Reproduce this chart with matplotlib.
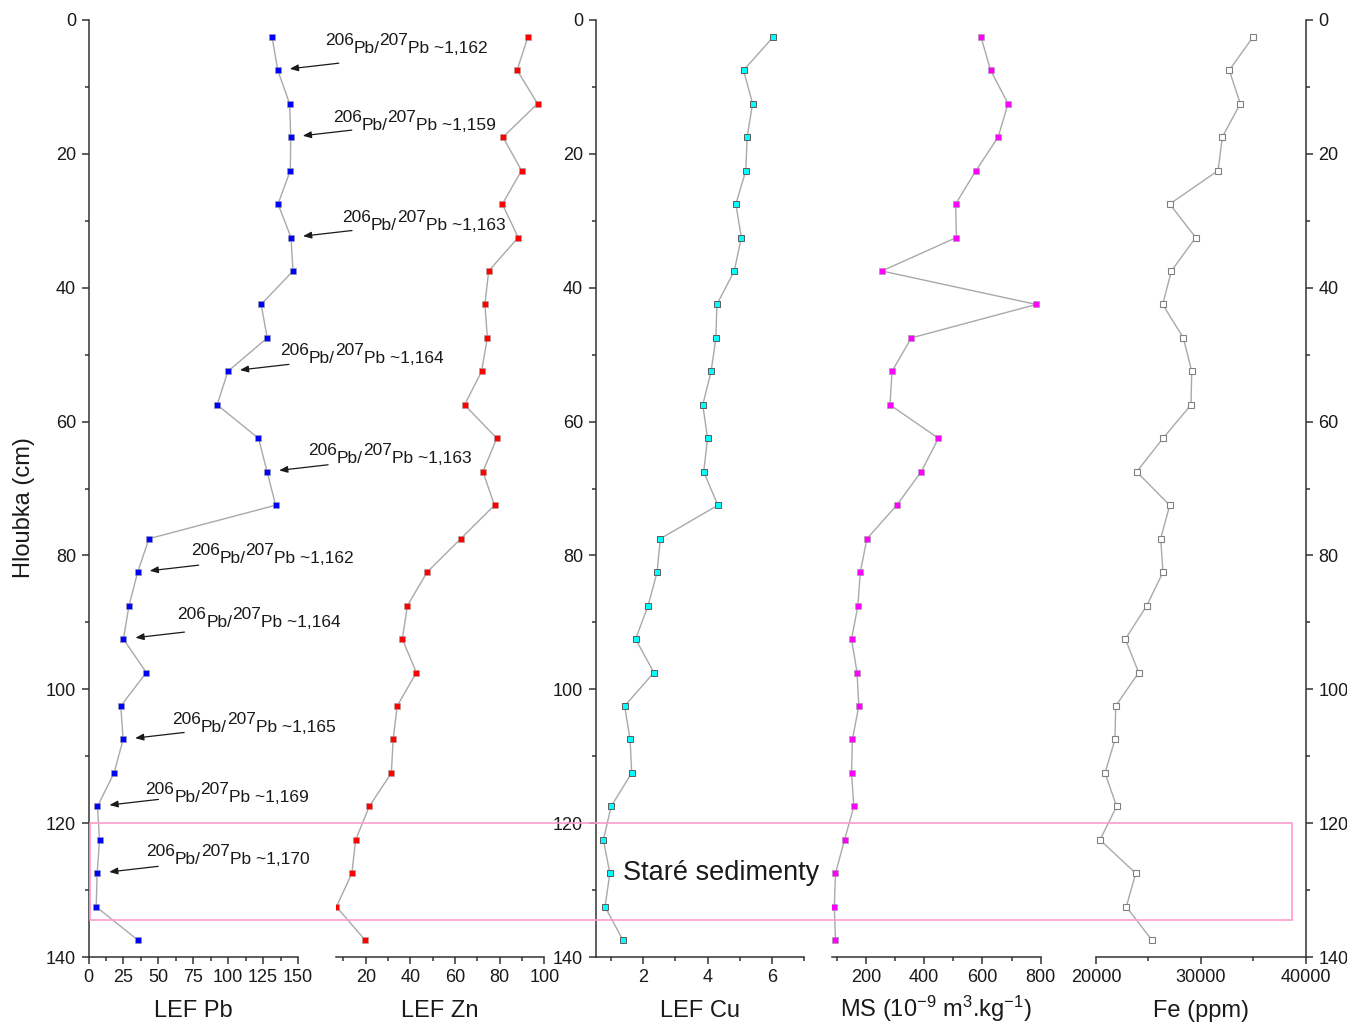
import matplotlib
matplotlib.use('Agg')
import matplotlib.pyplot as plt
from matplotlib.patches import Rectangle
from matplotlib import transforms
from matplotlib.ticker import MultipleLocator

plt.rcParams['font.family'] = ['Liberation Sans', 'DejaVu Sans']
plt.rcParams['mathtext.fontset'] = 'custom'
plt.rcParams['mathtext.rm'] = 'Liberation Sans'
plt.rcParams['mathtext.default'] = 'regular'

#Sample depths [cm]
depth = [2.5, 7.5, 12.5, 17.5, 22.5, 27.5, 32.5, 37.5, 42.5, 47.5,
         52.5, 57.5, 62.5, 67.5, 72.5, 77.5, 82.5, 87.5, 92.5, 97.5,
         102.5, 107.5, 112.5, 117.5, 122.5, 127.5, 132.5, 137.5]

#Local enrichment factors
lef_pb = [131.4, 135.5, 144.0, 144.8, 144.5, 135.7, 145.0, 146.4, 123.6, 128.0,
          99.8, 92.1, 121.7, 127.9, 134.0, 43.3, 35.2, 29.0, 25.0, 41.4,
          23.1, 24.8, 18.3, 6.4, 7.9, 6.2, 5.5, 35.5]
lef_zn = [92.7, 87.8, 97.0, 81.5, 89.8, 81.2, 88.3, 75.1, 73.4, 74.5,
          71.9, 64.3, 78.7, 72.5, 77.7, 62.6, 47.5, 38.7, 36.4, 42.7,
          34.1, 32.3, 31.5, 21.6, 15.5, 13.8, 6.9, 19.8]
lef_cu = [6.05, 5.12, 5.40, 5.23, 5.19, 4.88, 5.05, 4.83, 4.29, 4.26,
          4.11, 3.85, 4.00, 3.88, 4.32, 2.53, 2.43, 2.15, 1.76, 2.33,
          1.42, 1.59, 1.64, 1.00, 0.76, 0.96, 0.81, 1.37]

#Magnetic susceptibility [1e-9 m3/kg]
ms = [595, 628, 688, 654, 578, 508, 511, 255, 785, 356,
      290, 283, 449, 390, 306, 204, 181, 173, 151, 170,
      176, 154, 151, 159, 127, 96, 92, 96]

#Iron [ppm]
fe = [35000, 32710, 33760, 32050, 31640, 27030, 29510, 27190, 26360, 28330,
      29130, 29060, 26390, 23880, 27030, 26170, 26390, 24840, 22800, 24070,
      21880, 21810, 20860, 21970, 20380, 23790, 22890, 25340]

#206Pb/207Pb ratios measured at selected depths
ratio_depth = [7.5, 17.5, 32.5, 52.5, 67.5, 82.5, 92.5, 107.5, 117.5, 127.5]
ratio_value = ['1,162', '1,159', '1,163', '1,164', '1,163',
               '1,162', '1,164', '1,165', '1,169', '1,170']

#text start relative to the marker [px right, px up]
ratio_dx = [47, 42, 51, 52, 41, 53, 54, 49, 48, 49]
ratio_dy = [17, 7, 8, 8, 9, 9, 12, 7, 4, 9]

W, H = 1347, 1025
fig = plt.figure(figsize=(W / 100, H / 100), dpi=100)

TXT = '#1a1a1a'
SPINE = '#333333'
LINE = '#a9a9a9'


def panel(x0, x1, vals, face, edge, mew, xlim, major, minor, label, yside):
    ax = fig.add_axes([x0 / W, 1 - 957 / H, (x1 - x0) / W, 937 / H])
    ax.plot(vals, depth, '-', color=LINE, lw=1.0, marker='s', ms=5.0,
            mfc=face, mec=edge, mew=mew, zorder=3)
    ax.set_xlim(*xlim)
    ax.set_ylim(140, 0)
    ax.xaxis.set_major_locator(MultipleLocator(major))
    ax.xaxis.set_minor_locator(MultipleLocator(minor))
    ax.yaxis.set_major_locator(MultipleLocator(20))
    ax.yaxis.set_minor_locator(MultipleLocator(10))
    ax.patch.set_alpha(0)
    for s in ['top', 'right', 'left']:
        ax.spines[s].set_visible(False)
    ax.spines['bottom'].set_color(SPINE)
    ax.spines['bottom'].set_linewidth(1.1)
    ax.tick_params(which='both', direction='out', width=1.1, color=SPINE,
                   labelsize=13, labelcolor=TXT, pad=4)
    ax.tick_params(which='major', length=5)
    ax.tick_params(which='minor', length=3)
    if yside == 'left':
        ax.spines['left'].set_visible(True)
        ax.spines['left'].set_color(SPINE)
        ax.spines['left'].set_linewidth(1.1)
    elif yside == 'right':
        ax.spines['right'].set_visible(True)
        ax.spines['right'].set_color(SPINE)
        ax.spines['right'].set_linewidth(1.1)
        ax.yaxis.tick_right()
    else:
        ax.tick_params(axis='y', which='both', left=False, labelleft=False)
    ax.set_xlabel(label, fontsize=17, color=TXT)
    ax.xaxis.set_label_coords(0.5, -0.064)
    ax.xaxis.label.set_va('baseline')
    return ax


ax_pb = panel(88.5, 298.0, lef_pb, '#0000ff', '#9a9a9a', 0.4, (0, 150), 25, 12.5, 'LEF Pb', 'left')
ax_zn = panel(336.0, 544.3, lef_zn, '#ff0000', '#a0a0a0', 0.4, (6.7, 100), 20, 10, 'LEF Zn', None)
ax_cu = panel(595.7, 804.0, lef_cu, '#00ffff', '#5a5a5a', 0.7, (0.52, 7.0), 2, 1, 'LEF Cu', 'left')
ax_ms = panel(831.7, 1040.7, ms, '#ff00ff', '#9a9a9a', 0.4, (83, 800), 200, 100,
              'MS (10$^{-9}$ m$^{3}$.kg$^{-1}$)', None)
ax_fe = panel(1096.0, 1305.7, fe, 'white', '#808080', 0.8, (20000, 40000), 10000, 5000,
              'Fe (ppm)', 'right')

ax_pb.set_ylabel('Hloubka (cm)', fontsize=17, color=TXT)
ax_pb.yaxis.set_label_coords(-0.255, 0.48)

#Pb isotope ratio labels with arrows
px = 0.72
for d, val, dx, dy in zip(ratio_depth, ratio_value, ratio_dx, ratio_dy):
    x = lef_pb[depth.index(d)]
    ax_pb.annotate('', xy=(x, d), xytext=(61 * px, 7 * px), textcoords='offset points',
                   arrowprops=dict(arrowstyle='-|>,head_length=0.5,head_width=0.2',
                                   color=TXT, lw=0.9, shrinkA=0, shrinkB=8.7,
                                   mutation_scale=10))
    t = ax_pb.annotate('206', xy=(x, d), xytext=(dx * px, (dy + 8) * px),
                       textcoords='offset points', fontsize=12.5, color=TXT,
                       ha='left', va='baseline')
    for s, shift in [('Pb/', -8 * px), ('207', 8 * px), ('Pb ~' + val, -8 * px)]:
        t = ax_pb.annotate(s, xy=(1, 0), xycoords=t, xytext=(0, shift),
                           textcoords='offset points', fontsize=12.5, color=TXT,
                           ha='left', va='bottom')

#old sediment zone
blend = transforms.blended_transform_factory(fig.transFigure, ax_pb.transData)
rect = Rectangle((90 / W, 120), (1291.7 - 90) / W, 14.5, transform=blend,
                 fill=False, ec='#ff9ccc', lw=1.2, clip_on=False)
fig.add_artist(rect)
fig.text(623 / W, 1 - 880 / H, 'Staré sedimenty', fontsize=19.5, color=TXT,
         ha='left', va='baseline')

fig.savefig('out.png', dpi=100)
